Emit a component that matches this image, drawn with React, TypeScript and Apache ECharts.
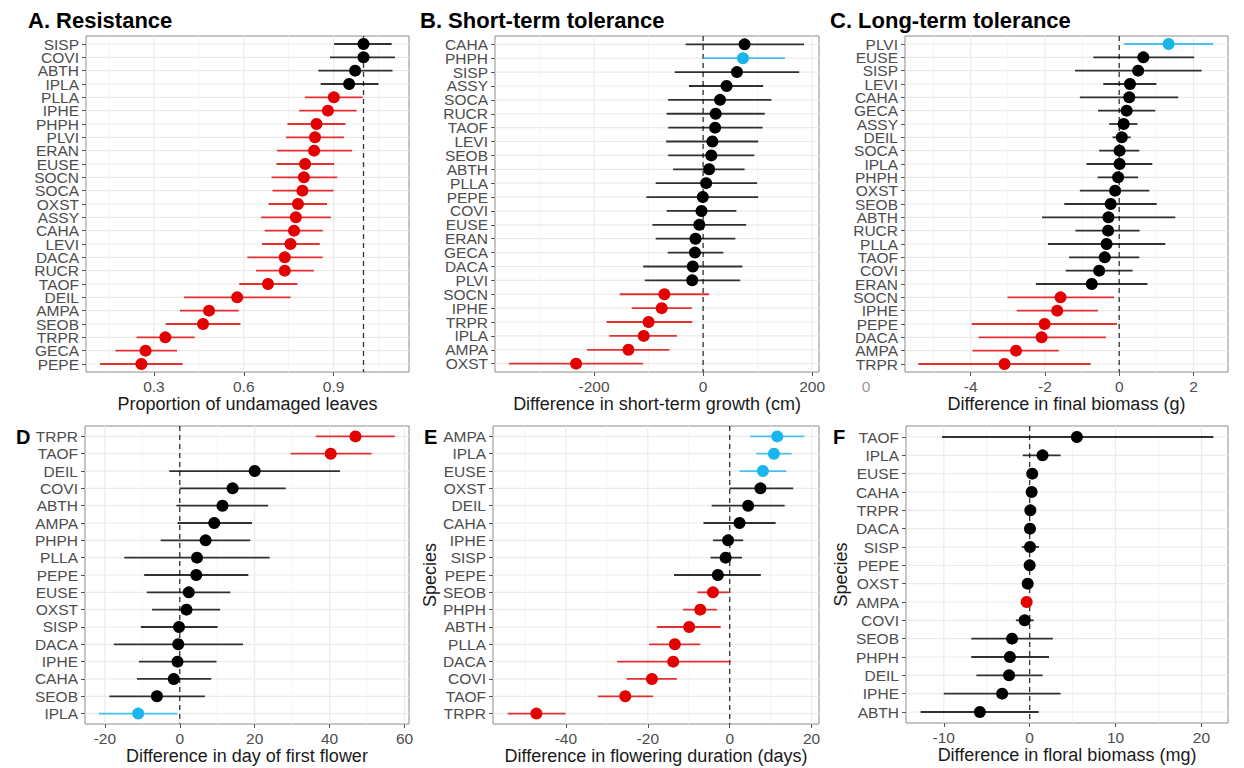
import React, { useEffect, useRef } from "react";
import * as echarts from "echarts";

// Effect groups: 0 = no significant effect, 1 = negative effect, 2 = positive effect
const GROUP_COLORS = ["#000000", "#e30000", "#19b5ec"];

// A. Resistance — proportion of undamaged leaves
const resistSpecies = ["SISP", "COVI", "ABTH", "IPLA", "PLLA", "IPHE", "PHPH", "PLVI", "ERAN", "EUSE", "SOCN", "SOCA", "OXST", "ASSY", "CAHA", "LEVI", "DACA", "RUCR", "TAOF", "DEIL", "AMPA", "SEOB", "TRPR", "GECA", "PEPE"];
const resistEst = [1.0, 1.0, 0.972, 0.952, 0.901, 0.881, 0.843, 0.838, 0.835, 0.805, 0.801, 0.796, 0.781, 0.774, 0.768, 0.756, 0.737, 0.737, 0.681, 0.578, 0.484, 0.464, 0.338, 0.272, 0.258];
const resistLo = [0.902, 0.888, 0.849, 0.857, 0.804, 0.785, 0.746, 0.741, 0.711, 0.709, 0.693, 0.696, 0.683, 0.658, 0.67, 0.661, 0.612, 0.641, 0.585, 0.4, 0.387, 0.339, 0.242, 0.171, 0.12];
const resistHi = [1.094, 1.105, 1.097, 1.05, 0.997, 0.977, 0.94, 0.935, 0.962, 0.902, 0.912, 0.9, 0.878, 0.891, 0.864, 0.854, 0.863, 0.834, 0.779, 0.756, 0.583, 0.589, 0.436, 0.377, 0.396];
const resistGroup = [0, 0, 0, 0, 1, 1, 1, 1, 1, 1, 1, 1, 1, 1, 1, 1, 1, 1, 1, 1, 1, 1, 1, 1, 1];

// B. Short-term tolerance — difference in short-term growth (cm)
const shortSpecies = ["CAHA", "PHPH", "SISP", "ASSY", "SOCA", "RUCR", "TAOF", "LEVI", "SEOB", "ABTH", "PLLA", "PEPE", "COVI", "EUSE", "ERAN", "GECA", "DACA", "PLVI", "SOCN", "IPHE", "TRPR", "IPLA", "AMPA", "OXST"];
const shortEst = [76, 73, 62, 43, 31, 23, 22, 17, 15, 11, 5.5, -0.6, -3, -7, -14, -15, -19, -20, -71, -76, -100, -109, -137, -233];
const shortLo = [-32, 0, -52, -26, -64, -67, -64, -68, -64, -55, -87, -104, -67, -93, -87, -65, -110, -107, -153, -131, -177, -172, -213, -356];
const shortHi = [185, 150, 176, 110, 125, 113, 109, 101, 94, 76, 99, 101, 61, 79, 59, 37, 72, 68, 11, -21, -20, -48, -62, -110];
const shortGroup = [0, 2, 0, 0, 0, 0, 0, 0, 0, 0, 0, 0, 0, 0, 0, 0, 0, 0, 1, 1, 1, 1, 1, 1];

// C. Long-term tolerance — difference in final biomass (g)
const longSpecies = ["PLVI", "EUSE", "SISP", "LEVI", "CAHA", "GECA", "ASSY", "DEIL", "SOCA", "IPLA", "PHPH", "OXST", "SEOB", "ABTH", "RUCR", "PLLA", "TAOF", "COVI", "ERAN", "SOCN", "IPHE", "PEPE", "DACA", "AMPA", "TRPR"];
const longEst = [1.33, 0.65, 0.51, 0.29, 0.27, 0.2, 0.12, 0.07, 0.01, 0.01, -0.03, -0.11, -0.23, -0.29, -0.3, -0.34, -0.39, -0.54, -0.74, -1.58, -1.67, -2.01, -2.09, -2.78, -3.09];
const longLo = [0.13, -0.7, -1.19, -0.43, -1.06, -0.57, -0.27, -0.18, -0.54, -0.88, -0.58, -1.06, -1.48, -2.08, -1.18, -1.92, -1.35, -1.44, -2.24, -3.01, -2.76, -3.97, -3.79, -3.95, -5.41];
const longHi = [2.53, 2.02, 2.22, 1.0, 1.59, 0.97, 0.49, 0.31, 0.54, 0.89, 0.51, 0.81, 1.01, 1.51, 0.55, 1.24, 0.54, 0.36, 0.76, -0.14, -0.57, -0.06, -0.36, -1.63, -0.77];
const longGroup = [2, 0, 0, 0, 0, 0, 0, 0, 0, 0, 0, 0, 0, 0, 0, 0, 0, 0, 0, 1, 1, 1, 1, 1, 1];

// D. Difference in day of first flower
const firstSpecies = ["TRPR", "TAOF", "DEIL", "COVI", "ABTH", "AMPA", "PHPH", "PLLA", "PEPE", "EUSE", "OXST", "SISP", "DACA", "IPHE", "CAHA", "SEOB", "IPLA"];
const firstEst = [46.9, 40.3, 20.0, 14.1, 11.4, 9.2, 6.9, 4.6, 4.4, 2.4, 1.8, -0.2, -0.4, -0.6, -1.6, -6.1, -11.1];
const firstLo = [36.3, 29.6, -2.8, 0.0, -0.9, -0.6, -5.1, -14.8, -9.5, -8.8, -7.4, -10.4, -17.6, -10.9, -11.4, -18.8, -21.6];
const firstHi = [57.4, 51.2, 42.8, 28.3, 23.6, 19.3, 18.8, 24.0, 18.3, 13.5, 10.8, 10.1, 16.9, 9.8, 8.4, 6.7, -0.6];
const firstGroup = [1, 1, 0, 0, 0, 0, 0, 0, 0, 0, 0, 0, 0, 0, 0, 0, 2];

// E. Difference in flowering duration (days)
const durSpecies = ["AMPA", "IPLA", "EUSE", "OXST", "DEIL", "CAHA", "IPHE", "SISP", "PEPE", "SEOB", "PHPH", "ABTH", "PLLA", "DACA", "COVI", "TAOF", "TRPR"];
const durEst = [11.6, 10.8, 8.1, 7.5, 4.5, 2.4, -0.4, -1.0, -2.9, -4.1, -7.2, -9.9, -13.4, -13.8, -19.0, -25.5, -47.2];
const durLo = [5.0, 6.5, 2.4, 0.0, -4.4, -6.4, -4.1, -4.7, -13.6, -7.9, -11.4, -17.8, -19.7, -27.5, -25.2, -32.2, -54.2];
const durHi = [18.2, 15.1, 13.8, 15.5, 13.4, 11.2, 3.3, 3.0, 7.6, -0.2, -3.1, -2.2, -7.2, 0.2, -12.9, -18.7, -40.1];
const durGroup = [2, 2, 2, 0, 0, 0, 0, 0, 0, 1, 1, 1, 1, 1, 1, 1, 1];

// F. Difference in floral biomass (mg)
const floralSpecies = ["TAOF", "IPLA", "EUSE", "CAHA", "TRPR", "DACA", "SISP", "PEPE", "OXST", "AMPA", "COVI", "SEOB", "PHPH", "DEIL", "IPHE", "ABTH"];
const floralEst = [5.5, 1.5, 0.3, 0.23, 0.08, 0.04, 0.04, 0.0, -0.23, -0.35, -0.58, -2.05, -2.3, -2.4, -3.2, -5.8];
const floralLo = [-10.2, -0.8, -0.1, -0.1, -0.2, -0.25, -0.9, -0.3, -0.6, -0.6, -1.6, -6.8, -6.8, -6.2, -10.0, -12.7];
const floralHi = [21.4, 3.6, 0.9, 0.6, 0.35, 0.35, 1.1, 0.3, 0.2, -0.1, 0.47, 2.7, 2.25, 1.5, 3.6, 1.05];
const floralGroup = [0, 0, 0, 0, 0, 0, 0, 0, 0, 1, 0, 0, 0, 0, 0, 0];

// Axis ticks
const resistTicks = [0.3, 0.6, 0.9];
const resistMinor = [0.15, 0.45, 0.75, 1.05];
const shortTicks = [-200, 0, 200];
const shortMinor = [-300, -100, 100];
const longTicks = [-4, -2, 0, 2];
const longMinor = [-5, -3, -1, 1];
const firstTicks = [-20, 0, 20, 40, 60];
const firstMinor = [-10, 10, 30, 50];
const durTicks = [-40, -20, 0, 20];
const durMinor = [-50, -30, -10, 10];
const floralTicks = [-10, 0, 10, 20];
const floralMinor = [-5, 5, 15];

const FONT = "'Liberation Sans', Arial, Helvetica, sans-serif";
const TICK_COLOR = "#4d4d4d";
const GRID_COLOR = "#ebebeb";

type Panel = {
  species: string[];
  est: number[];
  lo: number[];
  hi: number[];
  group: number[];
  ticks: number[];
  minor: number[];
  ref: number;
  xMin: number;
  xMax: number;
  box: { left: number; top: number; width: number; height: number };
  xTitle: string;
  yTitle?: string;
  yTitleGap?: number;
};

const panels: Panel[] = [
  {
    species: resistSpecies, est: resistEst, lo: resistLo, hi: resistHi, group: resistGroup,
    ticks: resistTicks, minor: resistMinor, ref: 1, xMin: 0.073, xMax: 1.152,
    box: { left: 86, top: 36, width: 323, height: 336 },
    xTitle: "Proportion of undamaged leaves",
  },
  {
    species: shortSpecies, est: shortEst, lo: shortLo, hi: shortHi, group: shortGroup,
    ticks: shortTicks, minor: shortMinor, ref: 0, xMin: -381.7, xMax: 212.5,
    box: { left: 495, top: 36, width: 324, height: 336 },
    xTitle: "Difference in short-term growth (cm)",
  },
  {
    species: longSpecies, est: longEst, lo: longLo, hi: longHi, group: longGroup,
    ticks: longTicks, minor: longMinor, ref: 0, xMin: -5.77, xMax: 2.93,
    box: { left: 905, top: 36, width: 323, height: 336 },
    xTitle: "Difference in final biomass (g)",
  },
  {
    species: firstSpecies, est: firstEst, lo: firstLo, hi: firstHi, group: firstGroup,
    ticks: firstTicks, minor: firstMinor, ref: 0, xMin: -25.3, xMax: 61.2,
    box: { left: 85, top: 426, width: 324, height: 298 },
    xTitle: "Difference in day of first flower",
  },
  {
    species: durSpecies, est: durEst, lo: durLo, hi: durHi, group: durGroup,
    ticks: durTicks, minor: durMinor, ref: 0, xMin: -57.8, xMax: 21.8,
    box: { left: 493, top: 426, width: 326, height: 298 },
    xTitle: "Difference in flowering duration (days)",
    yTitle: "Species", yTitleGap: 52,
  },
  {
    species: floralSpecies, est: floralEst, lo: floralLo, hi: floralHi, group: floralGroup,
    ticks: floralTicks, minor: floralMinor, ref: 0, xMin: -14.4, xMax: 23.1,
    box: { left: 906, top: 426, width: 322, height: 297 },
    xTitle: "Difference in floral biomass (mg)",
    yTitle: "Species", yTitleGap: 56,
  },
];

const panelTitles = [
  { text: "A. Resistance", x: 28, y: 20 },
  { text: "B. Short-term tolerance", x: 420, y: 20 },
  { text: "C. Long-term tolerance", x: 830, y: 20 },
  { text: "D", x: 16, y: 437 },
  { text: "E", x: 424, y: 437 },
  { text: "F", x: 833, y: 437 },
];

function buildOption() {
  const grid: any[] = [];
  const xAxis: any[] = [];
  const yAxis: any[] = [];
  const series: any[] = [];

  panels.forEach((p, k) => {
    const n = p.species.length;
    const yMin = -0.6;
    const yMax = n - 1 + 0.6;
    const idx = p.species.map((_, i) => i);
    // Species labels are split over two stacked axes (even / odd rows), so that the
    // tightly packed rows are never thinned out by the label overlap check.
    const evenRows = idx.filter((i) => i % 2 === 0);
    const oddRows = idx.filter((i) => i % 2 === 1);

    grid.push({
      left: p.box.left, top: p.box.top, width: p.box.width, height: p.box.height,
      show: true, borderColor: "#8c8c8c", borderWidth: 1, containLabel: false,
    });

    xAxis.push({
      type: "value", gridIndex: k, min: p.xMin, max: p.xMax, position: "bottom",
      axisLine: { show: false, onZero: false },
      splitLine: { show: false },
      axisTick: { show: true, customValues: p.ticks, length: 4, lineStyle: { color: "#555" } },
      axisLabel: {
        customValues: p.ticks, color: TICK_COLOR, fontSize: 15.5, fontFamily: FONT, margin: 6,
        showMinLabel: true, showMaxLabel: true,
      },
      name: p.xTitle, nameLocation: "middle", nameGap: 22,
      nameTextStyle: { fontSize: 18, fontFamily: FONT, color: "#1a1a1a", verticalAlign: "top" },
    });

    const speciesAxis = (rows: number[], withName: boolean) => ({
      type: "value", gridIndex: k, inverse: true, min: yMin, max: yMax, position: "left", offset: 0,
      axisLine: { show: false, onZero: false },
      splitLine: { show: false },
      axisTick: { show: true, customValues: rows, length: 4, lineStyle: { color: "#555" } },
      axisLabel: {
        customValues: rows, color: TICK_COLOR, fontSize: 15.5, fontFamily: FONT, margin: 7,
        hideOverlap: false, showMinLabel: true, showMaxLabel: true,
        formatter: (v: number) => p.species[Math.round(v)] ?? "",
      },
      name: withName ? p.yTitle ?? "" : "",
      nameLocation: "middle", nameGap: p.yTitleGap ?? 40, nameRotate: 90,
      nameTextStyle: { fontSize: 18, fontFamily: FONT, color: "#1a1a1a" },
    });
    const yIndex = yAxis.length;
    yAxis.push(speciesAxis(evenRows, true));
    yAxis.push(speciesAxis(oddRows, false));

    // Background: panel gridlines and the dashed no-effect reference line
    series.push({
      type: "custom", xAxisIndex: k, yAxisIndex: yIndex, silent: true, z: 1,
      data: [[p.ref, 0]],
      renderItem: (_params: any, api: any) => {
        const children: any[] = [];
        const seg = (a: number[], b: number[], stroke: string, lineWidth: number, lineDash?: number[]) => ({
          type: "line",
          shape: { x1: a[0], y1: a[1], x2: b[0], y2: b[1] },
          style: { stroke, lineWidth, lineDash },
        });
        p.minor.forEach((v) => children.push(seg(api.coord([v, yMin]), api.coord([v, yMax]), "#f2f2f2", 0.8)));
        p.ticks.forEach((v) => children.push(seg(api.coord([v, yMin]), api.coord([v, yMax]), GRID_COLOR, 1.2)));
        idx.forEach((i) => children.push(seg(api.coord([p.xMin, i]), api.coord([p.xMax, i]), GRID_COLOR, 1.2)));
        children.push(seg(api.coord([p.ref, yMin]), api.coord([p.ref, yMax]), "#333333", 1.3, [5, 4]));
        return { type: "group", children };
      },
    });

    // Estimates with confidence intervals
    series.push({
      type: "custom", xAxisIndex: k, yAxisIndex: yIndex, z: 3,
      encode: { x: [0, 1, 2], y: 3 },
      data: p.species.map((_, i) => [p.est[i], p.lo[i], p.hi[i], i, p.group[i]]),
      renderItem: (_params: any, api: any) => {
        const i = api.value(3);
        const color = GROUP_COLORS[api.value(4)];
        const a = api.coord([api.value(1), i]);
        const b = api.coord([api.value(2), i]);
        const c = api.coord([api.value(0), i]);
        return {
          type: "group",
          children: [
            {
              type: "line",
              shape: { x1: a[0], y1: a[1], x2: b[0], y2: b[1] },
              style: { stroke: color, lineWidth: 1.8, opacity: 0.8 },
            },
            { type: "circle", shape: { cx: c[0], cy: c[1], r: 6 }, style: { fill: color } },
          ],
        };
      },
    });
  });

  const graphic: any[] = panelTitles.map((t, i) => ({
    type: "text", x: t.x, y: t.y,
    style: {
      text: t.text, fill: "#000", fontFamily: FONT, fontWeight: "bold",
      fontSize: i < 3 ? 22 : 20, verticalAlign: "middle", align: "left",
    },
  }));
  graphic.push({
    type: "text", x: 866, y: 386,
    style: { text: "0", fill: "#9a9a9a", fontFamily: FONT, fontSize: 15.5, verticalAlign: "middle", align: "center" },
  });

  return {
    animation: false,
    backgroundColor: "#ffffff",
    textStyle: { fontFamily: FONT },
    grid, xAxis, yAxis, series, graphic,
  };
}

export default function App() {
  const ref = useRef<HTMLDivElement>(null);
  useEffect(() => {
    if (!ref.current) return;
    const chart = echarts.init(ref.current, undefined, { renderer: "svg" });
    chart.setOption(buildOption());
    return () => chart.dispose();
  }, []);
  return (
    <div
      ref={ref}
      style={{ position: "absolute", left: 0, top: 0, width: 1244, height: 768, background: "#fff" }}
    />
  );
}
